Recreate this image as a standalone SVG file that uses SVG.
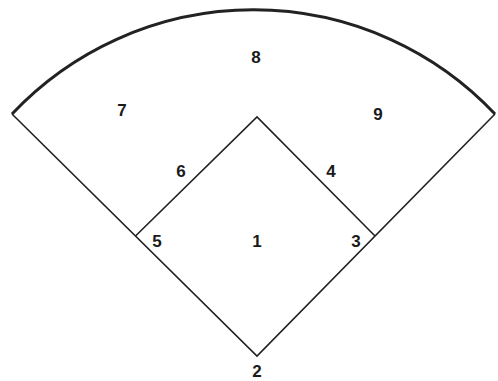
<svg xmlns="http://www.w3.org/2000/svg" width="498" height="381" viewBox="0 0 498 381">
<style>
.ln{fill:none;stroke:#222;stroke-width:1.6;stroke-linejoin:miter}
.arc{fill:none;stroke:#222;stroke-width:3}
.lb{font-family:"Liberation Sans",Arial,sans-serif;font-weight:bold;font-size:17px;fill:#1a1a1a;text-anchor:middle}
</style>
<rect width="498" height="381" fill="#fff"/>
<g id="connectors">
<path id="outfield-arc" class="arc" d="M12,114 A332,332 0 0 1 495,114"/>
<path id="foul-lines" class="ln" d="M12,114 L257,356 L495,114"/>
<path id="diamond" class="ln" d="M135.5,236 L257,117 L375,236"/>
</g>
<g id="n8"><text class="lb" x="256" y="63">8</text></g>
<g id="n7"><text class="lb" x="122" y="116">7</text></g>
<g id="n9"><text class="lb" x="378" y="120">9</text></g>
<g id="n6"><text class="lb" x="181" y="177">6</text></g>
<g id="n4"><text class="lb" x="331" y="177">4</text></g>
<g id="n5"><text class="lb" x="157" y="247">5</text></g>
<g id="n1"><text class="lb" x="257" y="247">1</text></g>
<g id="n3"><text class="lb" x="356" y="247">3</text></g>
<g id="n2"><text class="lb" x="257" y="377">2</text></g>
</svg>
